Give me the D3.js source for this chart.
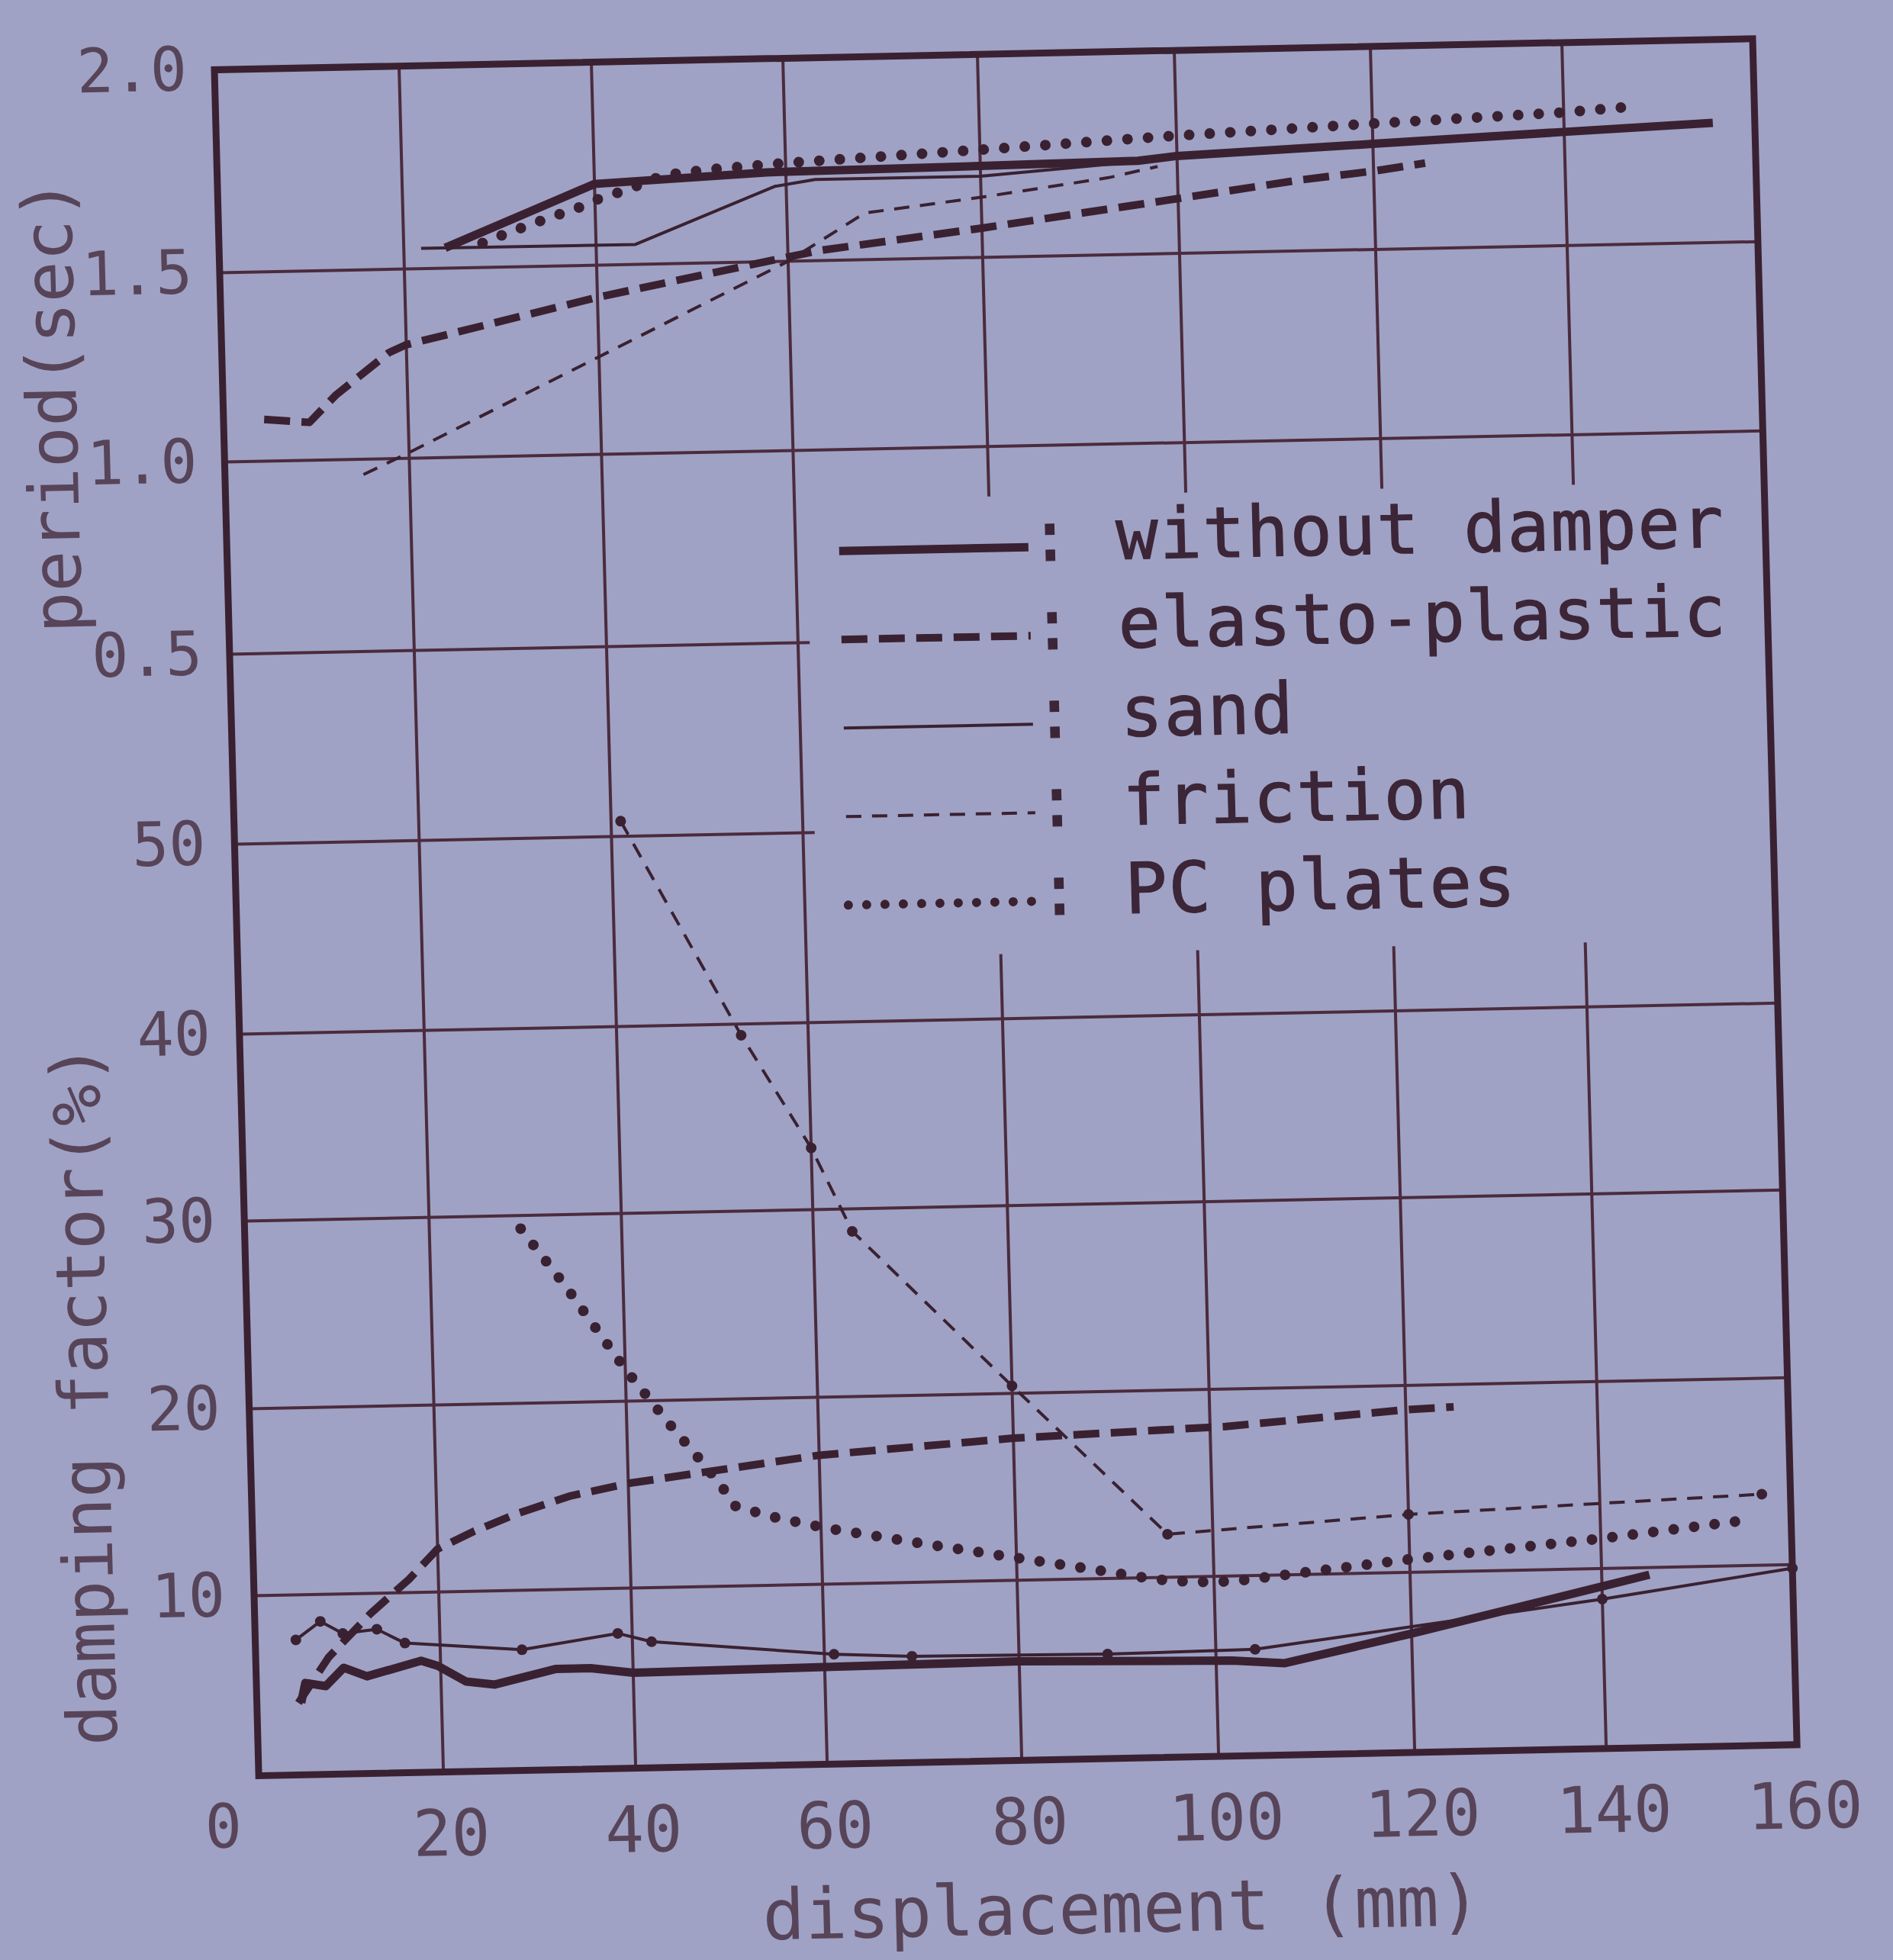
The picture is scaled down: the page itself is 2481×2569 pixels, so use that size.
<!DOCTYPE html>
<html>
<head>
<meta charset="utf-8">
<script src="https://cdn.jsdelivr.net/npm/d3@7"></script>
<style>
  html, body { margin: 0; padding: 0; background: #9fa2c4; }
  svg { display: block; }
</style>
</head>
<body>
<svg id="chart"></svg>
<script>
// values (displacement in mm)
const dispTicks = [20, 40, 60, 80, 100, 120, 140, 160];
const periodTicks = [2.0, 1.5, 1.0, 0.5];
const dampingTicks = [50, 40, 30, 20, 10];

// period (sec) vs displacement
const periodWithout = [[24.3,1.55],[40,1.70],[58,1.72],[80,1.725],[96,1.73],[100,1.74],[120,1.76],[140,1.78],[155.6,1.795]];
const periodElasto = [[4.4,1.11],[9.3,1.10],[12.2,1.17],[18.1,1.28],[20,1.30],[40,1.415],[57.6,1.50],[63.3,1.525],[80,1.572],[100,1.635],[112.6,1.675],[120,1.693],[125.4,1.71]];
const periodSand = [[21.8,1.55],[44.1,1.549],[58.8,1.685],[63,1.70],[80,1.70],[97,1.73]];
const periodFriction = [[15,0.96],[20,1.015],[41,1.27],[60,1.50],[68,1.615],[80,1.648],[93,1.69],[98,1.715]];
const periodPC = [[28.2,1.56],[31,1.585],[34.7,1.615],[38.6,1.645],[40,1.66],[43.5,1.685],[47.2,1.718],[52,1.73],[60,1.742],[80,1.765],[100,1.79],[120,1.81],[140,1.828],[148,1.84]];

// damping factor (%) vs displacement
const dampWithout = [[4.8,4.0],[5.3,5.1],[7.5,4.9],[9.5,5.9],[12,5.4],[17.9,6.2],[19.7,5.9],[22.6,5.0],[25.6,4.8],[32,5.6],[35.6,5.6],[40,5.3],[60,5.4],[80,5.5],[101.6,5.3],[107,5.1],[120,6.6],[140,9.0],[145,9.6]];
const dampElasto = [[4.5,4.0],[7.9,6.5],[12.6,8.9],[16.8,10.7],[20,12.3],[23.8,13.2],[28.3,14.1],[34,15.0],[40,15.6],[60,16.9],[80,17.6],[101.6,18.0],[120,18.7],[125,18.8]];
const dampSand = [[4.4,7.5],[7.1,8.5],[9.5,7.8],[13.2,8.0],[16.2,7.2],[28.5,6.7],[38.5,7.5],[42,7.0],[61,6.1],[69,5.9],[89,5.8],[104,5.9],[140,8.3],[160,9.8]];
const dampFriction = [[41,50.8],[53,39.4],[60,33.3],[64,28.8],[80,20.4],[95.4,12.3],[120,13.1],[157,13.8]];
const dampPC = [[29.5,29.3],[34,26.2],[40,21.7],[44.5,18.7],[47.7,16.7],[49.8,15.3],[51,14.3],[54.6,13.7],[60.5,13.0],[70,12.1],[80,11.2],[87.7,10.5],[94,9.9],[98,9.7],[102,9.7],[120,10.7],[140,11.6],[154.8,12.4]];

const seriesNames = ['without damper', 'elasto-plastic', 'sand', 'friction', 'PC plates'];

const series = [
  { name: seriesNames[0], period: periodWithout, damping: dampWithout },
  { name: seriesNames[1], period: periodElasto, damping: dampElasto },
  { name: seriesNames[2], period: periodSand, damping: dampSand, marks: true },
  { name: seriesNames[3], period: periodFriction, damping: dampFriction, marks: true },
  { name: seriesNames[4], period: periodPC, damping: dampPC }
];

// line looks
const lineStyle = {
  'without damper': { width: 11, dash: null, cap: 'butt' },
  'elasto-plastic': { width: 10, dash: '34,15', cap: 'butt' },
  'sand': { width: 4, dash: null, cap: 'butt' },
  'friction': { width: 4, dash: '20,14', cap: 'butt' },
  'PC plates': { width: 14, dash: '0,27', cap: 'round' }
};

const ink = '#3a2131';
const gridInk = '#4b2b3d';
const labelInk = '#574459';
const font = '"DejaVu Sans Mono", "Liberation Mono", monospace';

const pageW = 2481, pageH = 2569;
const W = 2016, H = 2236;

// the printed grid in the photo is not perfectly even, so the scales follow
// the measured gridline positions (piecewise linear)
const xStops = [0, 20, 40, 60, 80, 100, 120, 140, 160];
const xPos = [0, 242, 494, 745, 1000, 1258, 1515, 1766, W];
const pStops = [2.0, 1.5, 1.0, 0.5];
const pPos = [0, 266, 514, 766];
const dStops = [50, 40, 30, 20, 10, 0];
const dPos = [1015, 1264, 1509, 1755, 2000, H];

const svg = d3.select('#chart')
  .attr('width', pageW)
  .attr('height', pageH);

svg.append('rect')
  .attr('width', pageW)
  .attr('height', pageH)
  .attr('fill', '#9fa2c4');

// the photo is slightly skewed, so the whole plot sits in a sheared frame
const g = svg.append('g')
  .attr('transform', 'matrix(1,-0.0202,0.026,1,281,91.5)');

const x = d3.scaleLinear().domain(xStops).range(xPos);
const yP = d3.scaleLinear().domain(pStops).range(pPos);
const yD = d3.scaleLinear().domain(dStops).range(dPos);

// grid -- legend area leaves a gap in some lines
const legendGapTop = yP(0.87);
const legendGapBottom = yD(43.4);
const shortLineEnd = x(61.2);

const vSegs = [];
dispTicks.filter(d => d < 160).forEach(d => {
  if (d >= 80) {
    vSegs.push([d, 0, legendGapTop]);
    vSegs.push([d, legendGapBottom, H]);
  } else {
    vSegs.push([d, 0, H]);
  }
});

g.append('g').selectAll('line')
  .data(vSegs)
  .enter()
  .append('line')
  .attr('x1', d => x(d[0]))
  .attr('x2', d => x(d[0]))
  .attr('y1', d => d[1])
  .attr('y2', d => d[2])
  .attr('stroke', gridInk)
  .attr('stroke-width', 4);

const hLines = [];
periodTicks.filter(v => v < 2.0).forEach(v => {
  hLines.push({ y: yP(v), end: v === 0.5 ? shortLineEnd : W });
});
dampingTicks.forEach(v => {
  hLines.push({ y: yD(v), end: v === 50 ? shortLineEnd : W });
});

g.append('g').selectAll('line')
  .data(hLines)
  .enter()
  .append('line')
  .attr('x1', 0)
  .attr('x2', d => d.end)
  .attr('y1', d => d.y)
  .attr('y2', d => d.y)
  .attr('stroke', gridInk)
  .attr('stroke-width', 4);

// frame
g.append('rect')
  .attr('width', W)
  .attr('height', H)
  .attr('fill', 'none')
  .attr('stroke', ink)
  .attr('stroke-width', 9);

// axes (labels only, the grid does the rest)
const styleAxis = sel => {
  sel.select('.domain').remove();
  sel.attr('font-family', font).attr('font-size', 80);
  sel.selectAll('text').attr('fill', labelInk);
};

g.append('g')
  .call(d3.axisLeft(yP).tickValues(periodTicks).tickFormat(d3.format('.1f')).tickSize(0).tickPadding(36))
  .call(styleAxis);

g.append('g')
  .call(d3.axisLeft(yD).tickValues(dampingTicks).tickSize(0).tickPadding(38))
  .call(styleAxis);

g.append('g')
  .attr('transform', `translate(0,${H})`)
  .call(d3.axisBottom(x).tickValues(dispTicks).tickSize(0).tickPadding(50))
  .call(styleAxis)
  .selectAll('text')
  .attr('dx', 8)
  .attr('font-size', 84);

// corner "0"
g.append('text')
  .attr('x', -48)
  .attr('y', H + 93)
  .attr('text-anchor', 'middle')
  .attr('font-family', font)
  .attr('font-size', 80)
  .attr('fill', labelInk)
  .text('0');

// axis titles
g.append('text')
  .attr('x', 1126)
  .attr('y', H + 228)
  .attr('text-anchor', 'middle')
  .attr('font-family', font)
  .attr('font-size', 92)
  .attr('fill', labelInk)
  .text('displacement (mm)');

g.append('text')
  .attr('transform', 'translate(-224,436) rotate(-90)')
  .attr('dy', '0.35em')
  .attr('text-anchor', 'middle')
  .attr('font-family', font)
  .attr('font-size', 90)
  .attr('fill', labelInk)
  .text('period(sec)');

g.append('text')
  .attr('transform', 'translate(-216,1732) rotate(-90)')
  .attr('dy', '0.35em')
  .attr('text-anchor', 'middle')
  .attr('font-family', font)
  .attr('font-size', 90)
  .attr('fill', labelInk)
  .text('damping factor(%)');

// curves
const linePeriod = d3.line().x(d => x(d[0])).y(d => yP(d[1]));
const lineDamp = d3.line().x(d => x(d[0])).y(d => yD(d[1]));

const curves = g.append('g')
  .attr('fill', 'none')
  .attr('stroke', ink)
  .attr('stroke-linejoin', 'round');

series.forEach(s => {
  const st = lineStyle[s.name];
  [[s.period, linePeriod], [s.damping, lineDamp]].forEach(([data, gen]) => {
    curves.append('path')
      .datum(data)
      .attr('d', gen)
      .attr('stroke-width', st.width)
      .attr('stroke-dasharray', st.dash)
      .attr('stroke-linecap', st.cap);
  });
  if (s.marks) {
    g.append('g').selectAll('circle')
      .data(s.damping)
      .enter()
      .append('circle')
      .attr('cx', d => x(d[0]))
      .attr('cy', d => yD(d[1]))
      .attr('r', 7)
      .attr('fill', ink);
  }
});

// legend
const legendTop = 665, legendStep = 116;
const legend = g.append('g');

seriesNames.forEach((name, i) => {
  const st = lineStyle[name];
  const by = legendTop + i * legendStep;
  legend.append('line')
    .attr('x1', 802)
    .attr('x2', name === 'PC plates' ? 1056 : 1050)
    .attr('y1', by - 18)
    .attr('y2', by - 18)
    .attr('stroke', ink)
    .attr('stroke-width', name === 'PC plates' ? 12 : st.width)
    .attr('stroke-dasharray', name === 'PC plates' ? '0,24' : st.dash)
    .attr('stroke-linecap', st.cap);
  legend.append('text')
    .attr('x', 1051)
    .attr('y', by)
    .attr('font-family', font)
    .attr('font-size', 92)
    .attr('letter-spacing', 1.6)
    .attr('fill', '#3b2537')
    .attr('stroke', '#3b2537')
    .attr('stroke-width', 1.2)
    .attr('xml:space', 'preserve')
    .style('white-space', 'pre')
    .text(': ' + name);
});
</script>
</body>
</html>
